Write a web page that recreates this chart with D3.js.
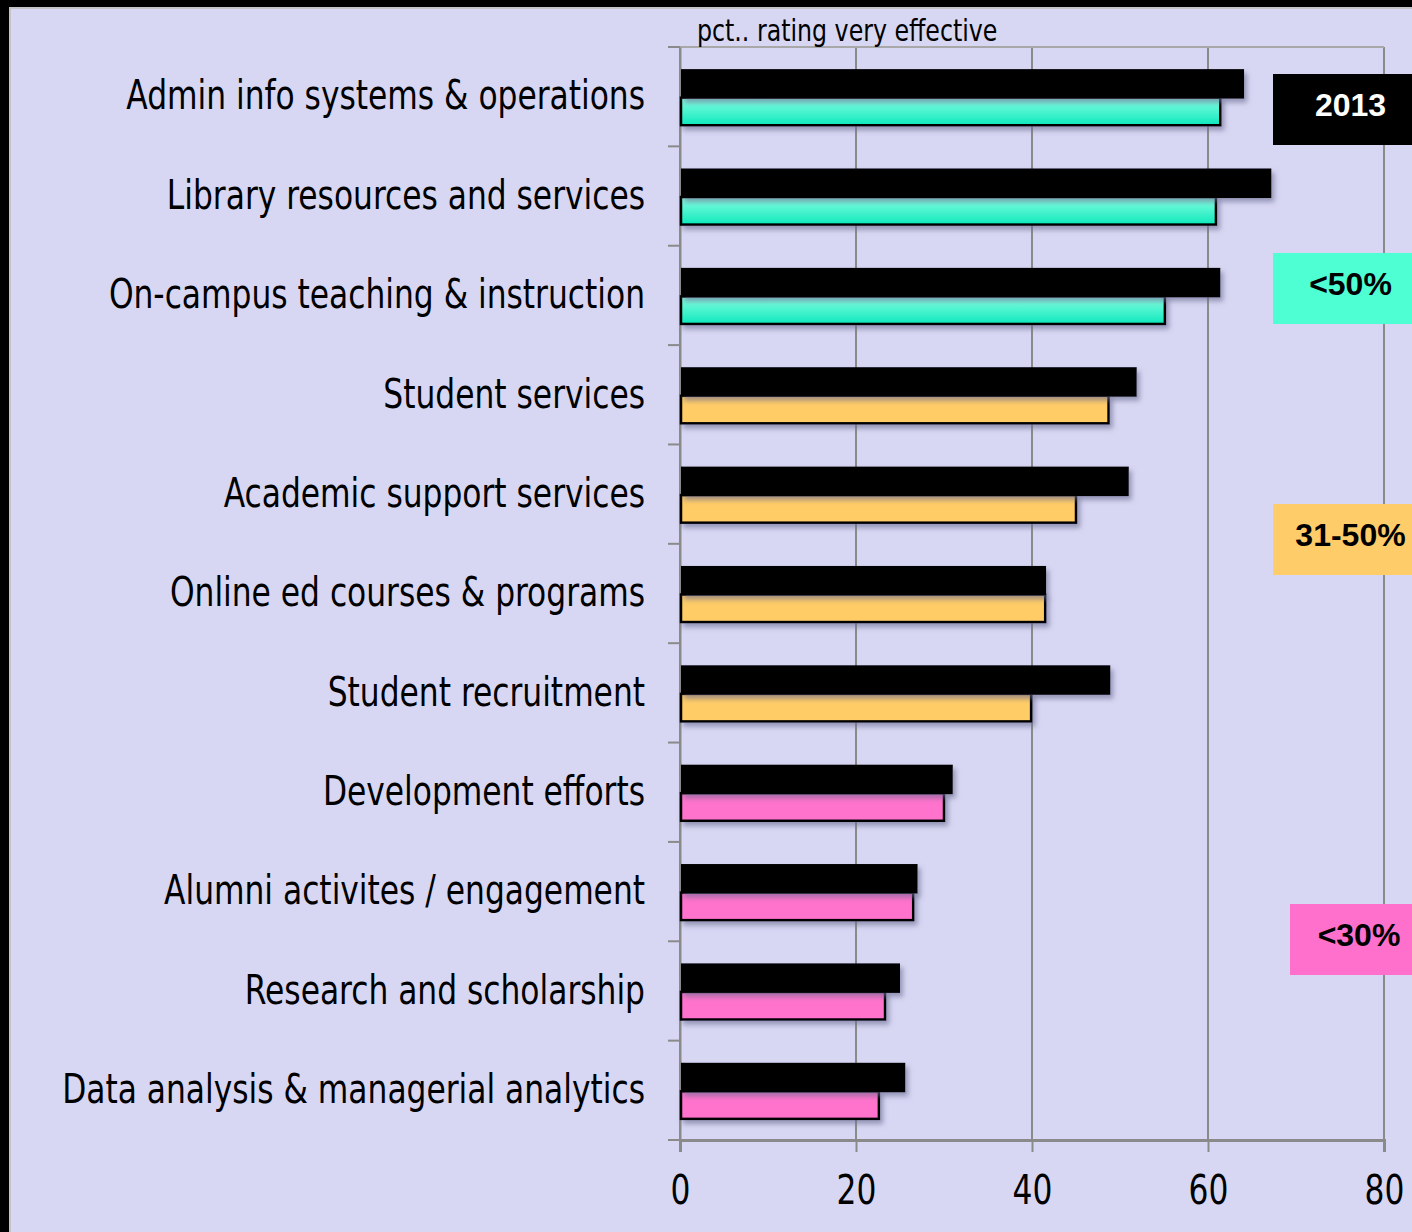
<!DOCTYPE html>
<html><head><meta charset="utf-8">
<script src="https://cdn.jsdelivr.net/npm/d3@7"></script>
<style>
html,body{margin:0;padding:0;background:#000;}
svg{display:block;}
</style></head>
<body>
<svg id="chart" width="1412" height="1232"></svg>
<script>
const categories = [
  "Admin info systems & operations",
  "Library resources and services",
  "On-campus teaching & instruction",
  "Student services",
  "Academic support services",
  "Online ed courses & programs",
  "Student recruitment",
  "Development efforts",
  "Alumni activites / engagement",
  "Research and scholarship",
  "Data analysis & managerial analytics"
];
const values2013 = [64.1, 67.2, 61.4, 51.9, 51.0, 41.6, 48.9, 31.0, 27.0, 25.0, 25.6];
const valuesCurrent = [61.4, 60.9, 55.1, 48.7, 45.0, 41.5, 39.9, 30.0, 26.5, 23.3, 22.6];
const groups = ["high","high","high","mid","mid","mid","mid","low","low","low","low"];
const xTicks = [0, 20, 40, 60, 80];
const axisTitle = "pct.. rating very effective";
const legendItems = [
  {label: "2013", key: "y2013"},
  {label: "<50%", key: "high"},
  {label: "31-50%", key: "mid"},
  {label: "<30%", key: "low"}
];

(function(){
const fills = {high: "url(#tealGrad)", mid: "#ffcc66", low: "#ff73cc"};
const legendFill = {y2013: "#000", high: "#4dffd2", mid: "#ffcc6a", low: "#ff70cc"};
const legendText = {y2013: "#fff", high: "#000", mid: "#000", low: "#000"};

const svg = d3.select("#chart");
const W = 1412, H = 1232;
const bg = "#d7d7f3";
const narrow = "'Liberation Sans Narrow','Arial Narrow','DejaVu Sans Condensed',sans-serif";
const sx = 0.87;

const defs = svg.append("defs");
const g = defs.append("linearGradient").attr("id","tealGrad").attr("x1",0).attr("y1",0).attr("x2",0).attr("y2",1);
g.append("stop").attr("offset","0%").attr("stop-color","#88ffe2");
g.append("stop").attr("offset","100%").attr("stop-color","#0ee8bc");
const f = defs.append("filter").attr("id","shadow").attr("x","-5%").attr("y","-30%").attr("width","115%").attr("height","190%");
f.append("feDropShadow").attr("dx",3).attr("dy",4).attr("stdDeviation",2.5).attr("flood-color","#6a6a90").attr("flood-opacity",0.6);

svg.append("rect").attr("x",0).attr("y",0).attr("width",W).attr("height",H).attr("fill","#000");
svg.append("rect").attr("x",9).attr("y",7).attr("width",W-9).attr("height",H-7).attr("fill","#c4c4c8");
svg.append("rect").attr("x",11).attr("y",9).attr("width",W-11).attr("height",H-9).attr("fill",bg);

const pL = 680, pR = 1384, pT = 47, pB = 1140;
const x = d3.scaleLinear().domain([0, 80]).range([pL, pR]);
const y = d3.scaleBand().domain(categories).range([pT, pB]).paddingInner(0).paddingOuter(0);
const sub = d3.scaleBand().domain(["y2013","cur"]).range([0, y.bandwidth()]).paddingOuter(0.74).paddingInner(0);

const gridColor = "#8a8a8a";
svg.append("g").selectAll("line").data(xTicks).join("line")
  .attr("x1", d => x(d)).attr("x2", d => x(d))
  .attr("y1", pT).attr("y2", pB)
  .attr("stroke", gridColor).attr("stroke-width", 2);
svg.append("line").attr("x1",pL).attr("x2",pR).attr("y1",pT).attr("y2",pT).attr("stroke","#a8a8a8").attr("stroke-width",2);

const xAxis = svg.append("g").attr("transform",`translate(0,${pB})`)
  .call(d3.axisBottom(x).tickValues(xTicks).tickSize(12).tickPadding(24).tickFormat(d3.format("d")));
xAxis.select(".domain").attr("stroke",gridColor).attr("stroke-width",3);
xAxis.selectAll(".tick line").attr("stroke",gridColor).attr("stroke-width",2);
xAxis.selectAll("text").attr("font-family",narrow).attr("font-size",40).attr("fill","#000")
  .attr("transform",`scale(${sx},1)`);

const yAxis = svg.append("g").attr("transform",`translate(${pL},0)`)
  .call(d3.axisLeft(y).tickSize(0).tickPadding(0));
yAxis.select(".domain").attr("stroke",gridColor).attr("stroke-width",2);
yAxis.selectAll("text").attr("font-family",narrow).attr("font-size",40).attr("fill","#000")
  .attr("dy","0.32em").attr("x", -35/sx).attr("transform",`scale(${sx},1)`);
const bounds = categories.map(c => y(c)).concat([pB]);
svg.append("g").selectAll("line").data(bounds).join("line")
  .attr("x1", pL-12).attr("x2", pL).attr("y1", d => d).attr("y2", d => d)
  .attr("stroke", gridColor).attr("stroke-width", 2);

const rows = categories.map((c,i) => ({c, v13: values2013[i], vc: valuesCurrent[i], grp: groups[i]}));
const barG = svg.append("g").attr("transform","translate(0,1)");
barG.selectAll("rect.cur").data(rows).join("rect").attr("class","cur")
  .attr("x", x(0)+1)
  .attr("y", d => y(d.c) + sub("cur"))
  .attr("width", d => x(d.vc) - x(0) - 1)
  .attr("height", sub.bandwidth() - 1)
  .attr("fill", d => fills[d.grp])
  .attr("stroke","#000").attr("stroke-width",2.5)
  .attr("filter","url(#shadow)");
barG.selectAll("rect.y13").data(rows).join("rect").attr("class","y13")
  .attr("x", x(0)+1)
  .attr("y", d => y(d.c) + sub("y2013"))
  .attr("width", d => x(d.v13) - x(0) - 1)
  .attr("height", sub.bandwidth() + 1)
  .attr("fill", "#000")
  .attr("filter","url(#shadow)");

svg.append("text").attr("x",697/0.85).attr("y",41).attr("transform","scale(0.85,1)")
  .attr("font-family",narrow).attr("font-size",31).attr("fill","#000").text(axisTitle);

const legendPos = [
  {x:1273, y:74, w:139, h:71},
  {x:1273, y:253, w:139, h:71},
  {x:1273, y:504, w:139, h:71},
  {x:1290, y:904, w:122, h:71}
];
const lg = svg.append("g");
legendItems.forEach((d,i) => {
  const p = legendPos[i];
  lg.append("rect").attr("x",p.x).attr("y",p.y).attr("width",p.w).attr("height",p.h).attr("fill",legendFill[d.key]);
  lg.append("text").attr("x", p.x + p.w/2 + 8).attr("y", p.y + 42)
    .attr("text-anchor","middle")
    .attr("font-family","'Liberation Sans',Arial,sans-serif").attr("font-weight","bold").attr("font-size",32)
    .attr("fill",legendText[d.key]).text(d.label);
});
})();
</script>
</body></html>
